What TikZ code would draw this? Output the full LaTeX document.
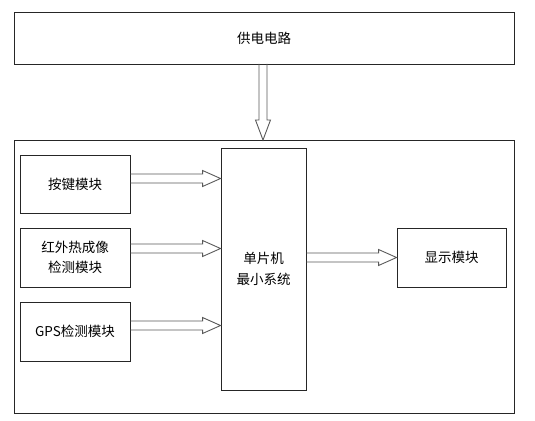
\documentclass[tikz,border=0pt]{standalone}
\usepackage{fontspec}
\setmainfont{Noto Sans CJK SC}
\usetikzlibrary{calc}
\tikzset{
  box/.style={draw=black!85, line width=0.9pt, fill=white, inner sep=0pt, align=center, font=\fontsize{13.5}{20.5}\selectfont},
  harrow/.style={draw=black!65, line width=0.9pt, line join=miter}
}
\newcommand{\rarrow}[2]{\draw[harrow] ($(#1)+(0,-4.5)$) -- ($(#2)+(-18,-4.5)$) -- ($(#2)+(-18,-8)$) -- (#2) -- ($(#2)+(-18,8)$) -- ($(#2)+(-18,4.5)$) -- ($(#1)+(0,4.5)$);}
\newcommand{\darrow}[2]{\draw[harrow] ($(#1)+(-4,0)$) -- ($(#2)+(-4,-20)$) -- ($(#2)+(-7.5,-20)$) -- (#2) -- ($(#2)+(7.5,-20)$) -- ($(#2)+(4,-20)$) -- ($(#1)+(4,0)$);}
\begin{document}
\begin{tikzpicture}[x=1pt,y=-1pt]
\useasboundingbox (0,0) rectangle (535,420);
\node[box, minimum width=500, minimum height=52] (power) at (264,38) {供电电路};
\node[box, minimum width=500, minimum height=273] (outer) at (264,277) {};
\node[box, minimum width=110, minimum height=58] (key) at (75,184) {按键模块};
\node[box, minimum width=110, minimum height=59] (ir) at (75,257.5) {红外热成像\\检测模块};
\node[box, minimum width=110, minimum height=59] (gps) at (75,331.5) {GPS检测模块};
\node[box, minimum width=85, minimum height=242] (mcu) at (263.5,269) {单片机\\最小系统};
\node[box, minimum width=109, minimum height=59] (disp) at (451.5,257.5) {显示模块};
\coordinate (p1) at (263,64);
\coordinate (p2) at (263,140);
\darrow{p1}{p2}
\coordinate (k1) at ($(key.east)+(0,-5.5)$);
\coordinate (k2) at (mcu.west |- k1);
\rarrow{k1}{k2}
\coordinate (i1) at ($(ir.east)+(0,-9)$);
\coordinate (i2) at (mcu.west |- i1);
\rarrow{i1}{i2}
\coordinate (g1) at ($(gps.east)+(0,-6)$);
\coordinate (g2) at (mcu.west |- g1);
\rarrow{g1}{g2}
\coordinate (d1) at (mcu.east |- disp.west);
\rarrow{d1}{disp.west}
\end{tikzpicture}
\end{document}
